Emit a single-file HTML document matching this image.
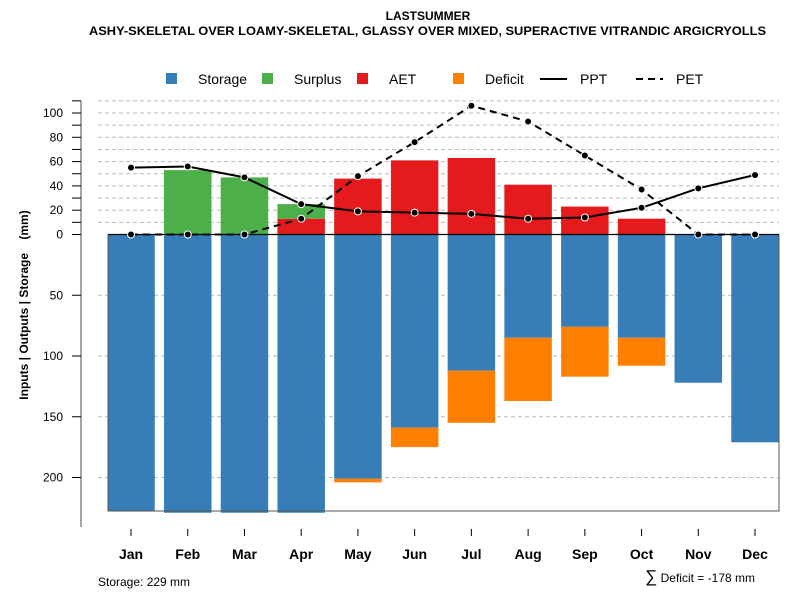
<!DOCTYPE html>
<html><head><meta charset="utf-8"><style>
body{margin:0;background:#fff;}
svg text{font-family:"Liberation Sans",Arial,sans-serif;}
</style></head><body>
<svg id="chart" width="800" height="600" xmlns="http://www.w3.org/2000/svg">
<text x="428" y="20" text-anchor="middle" font-size="12" font-weight="bold">LASTSUMMER</text>
<text x="89" y="35" font-size="12" font-weight="bold" textLength="677" lengthAdjust="spacingAndGlyphs">ASHY-SKELETAL OVER LOAMY-SKELETAL, GLASSY OVER MIXED, SUPERACTIVE VITRANDIC ARGICRYOLLS</text>
<g font-size="14">
 <rect x="166" y="73" width="11" height="11" fill="#377eb8"/>
 <text x="198" y="84">Storage</text>
 <rect x="262" y="73" width="11" height="11" fill="#4daf4a"/>
 <text x="294" y="84">Surplus</text>
 <rect x="357" y="73" width="11" height="11" fill="#e41a1c"/>
 <text x="389" y="84">AET</text>
 <rect x="453" y="73" width="11" height="11" fill="#ff7f00"/>
 <text x="485" y="84">Deficit</text>
 <line x1="540" y1="79" x2="567" y2="79" stroke="#000" stroke-width="2"/>
 <text x="580" y="84">PPT</text>
 <line x1="636" y1="79" x2="663" y2="79" stroke="#000" stroke-width="2" stroke-dasharray="7,5"/>
 <text x="676" y="84">PET</text>
</g>
<text transform="translate(28,305) rotate(-90)" text-anchor="middle" font-size="12" font-weight="bold" style="white-space:pre" xml:space="preserve">Inputs | Outputs | Storage    (mm)</text>
<g id="grid"></g><g id="bars"></g><g id="axes"></g><g id="lines"></g>
<text x="98" y="586" font-size="12">Storage: 229 mm</text>
<text x="755" y="582" text-anchor="end" font-size="12"><tspan font-size="17">∑</tspan> Deficit = -178 mm</text>
</svg>
<script>
const months=["Jan","Feb","Mar","Apr","May","Jun","Jul","Aug","Sep","Oct","Nov","Dec"];
const storage=[228,229,229,229,201,159,112,85,76,85,122,171];
const deficit=[0,0,0,0,3,16,43,52,41,23,0,0];
const aet=[0,0,0,13,46,61,63,41,23,13,0,0];
const surplus=[0,53,47,12,0,0,0,0,0,0,0,0];
const ppt=[55,56,47,25,19,18,17,13,14,22,38,49];
const pet=[0,0,0,13,48,76,106,93,65,37,0,0];
const posTicks=[0,10,20,30,40,50,60,70,80,90,100,110];
const posLabels=[0,20,40,60,80,100];
const negTicks=[50,100,150,200];
const NS="http://www.w3.org/2000/svg";
const y0=234.5,k=1.215;
function y(v){return y0-v*k;}
function x(i){return 131+i*56.73;}
const bw=47.5;
function mk(t,a,p){const e=document.createElementNS(NS,t);for(const q in a)e.setAttribute(q,a[q]);document.getElementById(p).appendChild(e);return e;}
posTicks.forEach(v=>{if(v>0){const l=mk('line',{x1:98,x2:779,y1:y(v),y2:y(v),stroke:'#bbb','stroke-dasharray':'4,3'},'grid');

}});
negTicks.forEach(v=>{const l=mk('line',{x1:98,x2:779,y1:y(-v),y2:y(-v),stroke:'#bbb','stroke-dasharray':'4,3'},'grid');

});
months.forEach((m,i)=>{
 const cx=x(i),bx=Math.max(108,cx-bw/2),w=Math.min(cx+bw/2,779)-bx;
 const add=(nm,top,bot,col)=>{if(bot-top<=0)return;const r=mk('rect',{x:bx,y:top,width:w,height:bot-top,fill:col},'bars');
 
 };
 add('bar-storage-'+m.toLowerCase(),y0,y(-storage[i]),'#377eb8');
 add('bar-deficit-'+m.toLowerCase(),y(-storage[i]),y(-storage[i]-deficit[i]),'#ff7f00');
 add('bar-aet-'+m.toLowerCase(),y(aet[i]),y0,'#e41a1c');
 add('bar-surplus-'+m.toLowerCase(),y(aet[i]+surplus[i]),y(aet[i]),'#4daf4a');
});
const ax=mk('line',{x1:81,x2:81,y1:y(110),y2:527,stroke:'#888','stroke-width':1.5},'axes');


const box=mk('path',{d:`M108 ${y0} V511 H779 V${y0}`,fill:'none',stroke:'#555'},'axes');


const zl=mk('line',{x1:108,x2:779,y1:y0,y2:y0,stroke:'#000','stroke-width':1.2},'axes');


posTicks.forEach(v=>{const t=mk('line',{x1:72,x2:81,y1:y(v),y2:y(v),stroke:'#000'},'axes');

});
posLabels.forEach(v=>{const t=mk('text',{x:63,y:y(v)+4,'text-anchor':'end','font-size':12},'axes');t.textContent=v;

});
negTicks.forEach(v=>{const t=mk('line',{x1:72,x2:81,y1:y(-v),y2:y(-v),stroke:'#000'},'axes');


const l=mk('text',{x:63,y:y(-v)+4,'text-anchor':'end','font-size':12},'axes');l.textContent=v;

});
months.forEach((m,i)=>{const t=mk('line',{x1:x(i),x2:x(i),y1:529,y2:536,stroke:'#000'},'axes');


const l=mk('text',{x:x(i),y:559,'text-anchor':'middle','font-size':14,'font-weight':'bold'},'axes');l.textContent=m;

});
function series(vals,nm,dash){
 const p=mk('polyline',{points:vals.map((v,i)=>x(i)+','+y(v)).join(' '),fill:'none',stroke:'#000','stroke-width':2,'stroke-dasharray':dash},'lines');
 
 
 vals.forEach((v,i)=>{const c=mk('circle',{cx:x(i),cy:y(v),r:3.5,fill:'#000',stroke:'#fff','stroke-width':1},'lines');
 
 });
}
series(pet,'pet','7,5');
series(ppt,'ppt','none');
</script>
</body></html>
